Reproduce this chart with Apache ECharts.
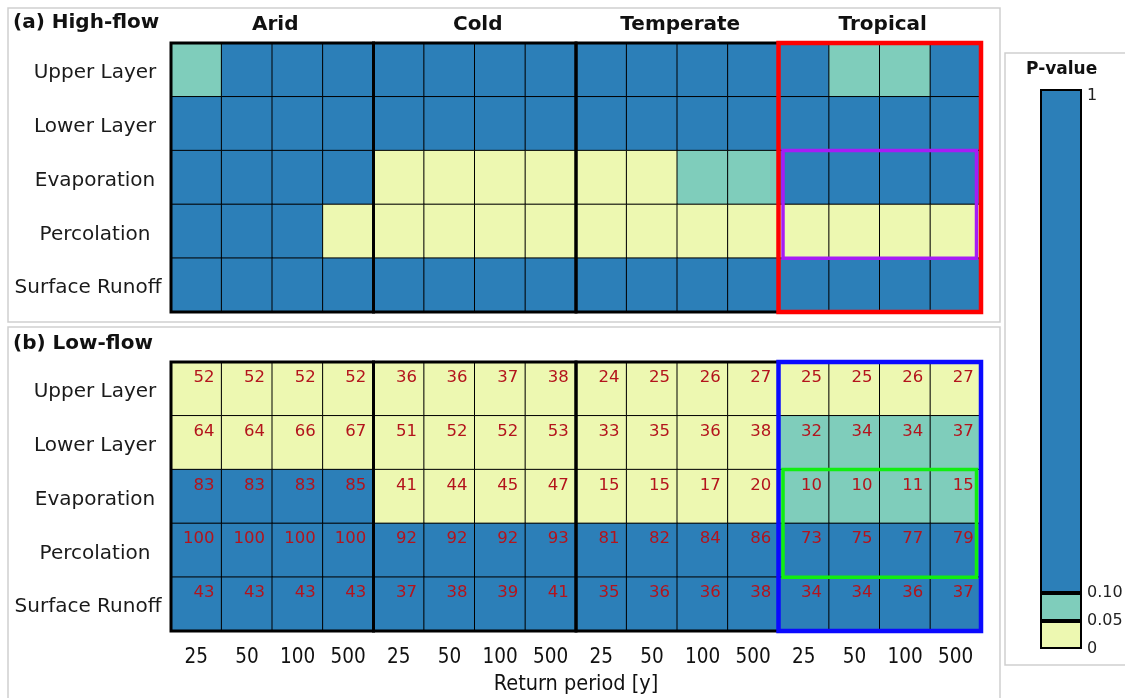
<!DOCTYPE html>
<html>
<head>
<meta charset="utf-8">
<script src="https://cdn.jsdelivr.net/npm/echarts@6/dist/echarts.min.js"></script>
<style>
html,body{margin:0;padding:0;background:#fff;}
#chart{width:1125px;height:698px;}
</style>
</head>
<body>
<div id="chart"></div>
<script>
// ---------------- DATA ----------------
const climates = ['Arid', 'Cold', 'Temperate', 'Tropical'];
const returnPeriods = ['25', '50', '100', '500'];
const variables = ['Upper Layer', 'Lower Layer', 'Evaporation', 'Percolation', 'Surface Runoff'];

// p-value class per cell: 0 = p < 0.05, 1 = 0.05 - 0.10, 2 = p > 0.10
const highFlowPClass = [
  [1,2,2,2, 2,2,2,2, 2,2,2,2, 2,1,1,2],
  [2,2,2,2, 2,2,2,2, 2,2,2,2, 2,2,2,2],
  [2,2,2,2, 0,0,0,0, 0,0,1,1, 2,2,2,2],
  [2,2,2,0, 0,0,0,0, 0,0,0,0, 0,0,0,0],
  [2,2,2,2, 2,2,2,2, 2,2,2,2, 2,2,2,2]
];
const lowFlowPClass = [
  [0,0,0,0, 0,0,0,0, 0,0,0,0, 0,0,0,0],
  [0,0,0,0, 0,0,0,0, 0,0,0,0, 1,1,1,1],
  [2,2,2,2, 0,0,0,0, 0,0,0,0, 1,1,1,1],
  [2,2,2,2, 2,2,2,2, 2,2,2,2, 2,2,2,2],
  [2,2,2,2, 2,2,2,2, 2,2,2,2, 2,2,2,2]
];
const lowFlowValues = [
  [52,52,52,52, 36,36,37,38, 24,25,26,27, 25,25,26,27],
  [64,64,66,67, 51,52,52,53, 33,35,36,38, 32,34,34,37],
  [83,83,83,85, 41,44,45,47, 15,15,17,20, 10,10,11,15],
  [100,100,100,100, 92,92,92,93, 81,82,84,86, 73,75,77,79],
  [43,43,43,43, 37,38,39,41, 35,36,36,38, 34,34,36,37]
];
// colour bar: tick labels and band extents on the bar's display scale
const pTickLabels = ['0', '0.05', '0.10', '1'];
const pTickPositions = [0, 1, 2, 20];
const pBandSpans = [1, 1, 18];

// ---------------- BUILD ----------------
const COLORS = ['#edf8b1', '#7fcdbb', '#2c7fb8'];
const FONT = 'DejaVu Sans';
const COND = 'DejaVu Sans Condensed';
const columns = [];
climates.forEach(c => returnPeriods.forEach(r => columns.push(c + '|' + r)));

function cells(classes, values) {
  const out = [];
  classes.forEach((row, r) => row.forEach((cls, c) => {
    out.push([c, r, cls, values ? values[r][c] : null]);
  }));
  return out;
}

function renderBox(params, api) {
  const x0 = api.value(0), x1 = api.value(1), y0 = api.value(2), y1 = api.value(3);
  const lw = api.value(4), inset = api.value(5);
  const a = api.coord([x0, y0]), b = api.coord([x1, y1]);
  const s = api.size([1, 1]);
  const left = Math.min(a[0], b[0]) - s[0] / 2 + inset;
  const right = Math.max(a[0], b[0]) + s[0] / 2 - inset;
  const top = Math.min(a[1], b[1]) - s[1] / 2;
  const bottom = Math.max(a[1], b[1]) + s[1] / 2;
  return {
    type: 'rect',
    shape: { x: left, y: top, width: right - left, height: bottom - top },
    style: { fill: 'none', stroke: api.visual('color'), lineWidth: lw }
  };
}

function boxSeries(gridIdx, tropColor, innerColor) {
  return {
    type: 'custom',
    xAxisIndex: gridIdx === 0 ? 0 : 2,
    yAxisIndex: gridIdx === 0 ? 0 : 1,
    renderItem: renderBox,
    z: 10,
    silent: true,
    encode: { x: [0, 1], y: [2, 3] },
    data: [
      { value: [0, 3, 0, 4, 3, 0], itemStyle: { color: '#000' } },
      { value: [4, 7, 0, 4, 3, 0], itemStyle: { color: '#000' } },
      { value: [8, 11, 0, 4, 3, 0], itemStyle: { color: '#000' } },
      { value: [12, 15, 2, 3, 3.5, 4.5], itemStyle: { color: innerColor } },
      { value: [12, 15, 0, 4, 4.5, 0], itemStyle: { color: tropColor } }
    ]
  };
}

const GL = 171, GW = 810, GH = 269;
const rowTxt = { fontFamily: FONT, fontSize: 20, color: '#1a1a1a', padding: [6, 0, 0, 0] };
const rowLabel = {
  fontFamily: FONT, fontSize: 20, color: '#1a1a1a', align: 'center', margin: 76,
  rich: {
    n: rowTxt,
    w: Object.assign({}, rowTxt, { padding: [6, 14, 0, 0] })
  },
  formatter: v => (v === 'Surface Runoff' ? '{w|' : '{n|') + v + '}'
};

const option = {
  animation: false,
  backgroundColor: '#fff',
  title: [
    { text: '(a) High-flow', left: 13, top: 13, padding: 0,
      textStyle: { fontFamily: FONT, fontSize: 20, fontWeight: 'bold', color: '#111' } },
    { text: '(b) Low-flow', left: 13, top: 334, padding: 0,
      textStyle: { fontFamily: FONT, fontSize: 20, fontWeight: 'bold', color: '#111' } },
    { text: 'P-value', left: 1026, top: 61, padding: 0,
      textStyle: { fontFamily: FONT, fontSize: 17, fontWeight: 'bold', color: '#111' } }
  ],
  graphic: [
    { type: 'rect', z: -10, shape: { x: 8, y: 8, width: 992, height: 314 },
      style: { fill: '#fff', stroke: '#cfcfcf', lineWidth: 1.5 } },
    { type: 'rect', z: -10, shape: { x: 8, y: 327, width: 992, height: 400 },
      style: { fill: '#fff', stroke: '#cfcfcf', lineWidth: 1.5 } },
    { type: 'rect', z: -10, shape: { x: 1005, y: 53, width: 140, height: 612 },
      style: { fill: '#fff', stroke: '#cfcfcf', lineWidth: 1.5 } }
  ],
  visualMap: {
    type: 'piecewise', show: false, dimension: 2, seriesIndex: [0, 1],
    pieces: [
      { value: 0, color: COLORS[0] },
      { value: 1, color: COLORS[1] },
      { value: 2, color: COLORS[2] }
    ]
  },
  grid: [
    { left: GL, top: 43, width: GW, height: GH, outerBoundsMode: 'none', containLabel: false },
    { left: GL, top: 362, width: GW, height: GH, outerBoundsMode: 'none', containLabel: false },
    { left: 1040, top: 89, width: 42, height: 560, outerBoundsMode: 'none', containLabel: false }
  ],
  xAxis: [
    { type: 'category', gridIndex: 0, data: columns, show: false },
    { type: 'category', gridIndex: 0, data: climates, position: 'top',
      axisLine: { show: false }, axisTick: { show: false },
      axisLabel: { fontFamily: FONT, fontSize: 20, fontWeight: 'bold', color: '#111', margin: 8,
        padding: [0, 0, 0, 6] } },
    { type: 'category', gridIndex: 1, data: columns,
      axisLine: { show: false }, axisTick: { show: false },
      axisLabel: { fontFamily: COND, fontSize: 20.5, color: '#111', margin: 16,
        formatter: v => v.split('|')[1] },
      name: 'Return period [y]', nameLocation: 'middle', nameGap: 42,
      nameTextStyle: { fontFamily: COND, fontSize: 21.5, color: '#111', verticalAlign: 'top' } },
    { type: 'category', gridIndex: 2, data: ['p'], show: false }
  ],
  yAxis: [
    { type: 'category', gridIndex: 0, data: variables, inverse: true,
      axisLine: { show: false }, axisTick: { show: false }, axisLabel: rowLabel },
    { type: 'category', gridIndex: 1, data: variables, inverse: true,
      axisLine: { show: false }, axisTick: { show: false }, axisLabel: rowLabel },
    { type: 'value', gridIndex: 2, min: 0, max: 20, interval: 1, position: 'right',
      axisLine: { show: false }, axisTick: { show: false }, splitLine: { show: false },
      axisLabel: { fontFamily: FONT, fontSize: 16, color: '#222', margin: 5,
        rich: { top: { fontFamily: FONT, fontSize: 16, color: '#222', padding: [14, 0, 0, 0] } },
        formatter: v => {
          const i = pTickPositions.indexOf(v);
          if (i < 0) return '';
          return i === pTickPositions.length - 1 ? '{top|' + pTickLabels[i] + '}' : pTickLabels[i];
        } } }
  ],
  series: [
    {
      type: 'heatmap', xAxisIndex: 0, yAxisIndex: 0,
      data: cells(highFlowPClass, null),
      itemStyle: { borderColor: '#000', borderWidth: 1 },
      emphasis: { disabled: true }, silent: true
    },
    {
      type: 'heatmap', xAxisIndex: 2, yAxisIndex: 1,
      data: cells(lowFlowPClass, lowFlowValues),
      itemStyle: { borderColor: '#000', borderWidth: 1 },
      label: { show: true, position: 'insideTopRight', distance: 8,
        fontFamily: FONT, fontSize: 16.5, color: '#b3141c',
        formatter: p => String(p.value[3]) },
      emphasis: { disabled: true }, silent: true
    },
    boxSeries(0, '#ff0000', '#a61cf5'),
    boxSeries(1, '#0a0aff', '#11ee11'),
    ...pBandSpans.map((span, i) => ({
      type: 'bar', xAxisIndex: 3, yAxisIndex: 2, stack: 'cb', barWidth: 42,
      data: [span], silent: true,
      itemStyle: { color: COLORS[i], borderColor: '#000', borderWidth: 2 }
    }))
  ]
};

const chart = echarts.init(document.getElementById('chart'), null, { renderer: 'canvas' });
chart.setOption(option);
</script>
</body>
</html>
